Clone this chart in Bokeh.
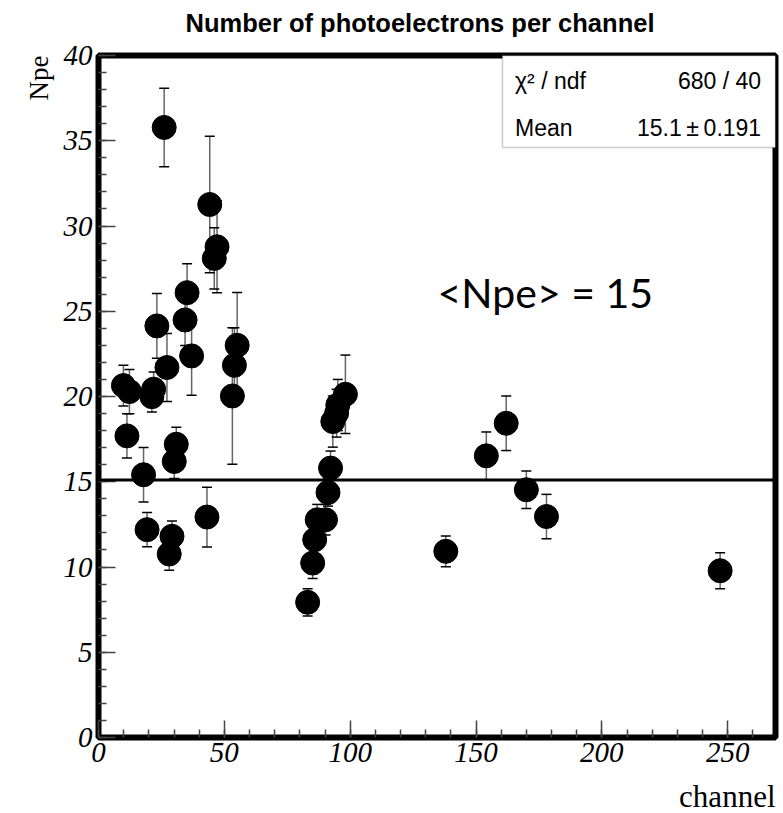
from bokeh.plotting import figure
from bokeh.models import (Range1d, SingleIntervalTicker, Whisker, TeeHead,
                          ColumnDataSource, Span, Label, BoxAnnotation, Title)
from bokeh.embed import file_html
from bokeh.resources import INLINE

# ---- data ----
channel = [9.9, 11.3, 12.3, 17.9, 19.3, 21.2, 21.9, 23.2, 26.1, 27.2,
           28.1, 29.2, 30.1, 30.9, 34.4, 35.2, 37.0, 43.1, 44.2, 46.0,
           47.1, 53.2, 54.0, 55.1,
           83.1, 85.1, 85.9, 86.9, 90.2, 91.2, 92.2, 93.1, 94.6, 95.1, 98.1,
           138.0, 154.1, 162.0, 170.0, 178.0, 247.0]
npe = [20.64, 17.69, 20.29, 15.41, 12.19, 19.99, 20.43, 24.14, 35.78, 21.70,
       10.76, 11.80, 16.19, 17.20, 24.49, 26.09, 22.38, 12.93, 31.26, 28.10,
       28.78, 20.03, 21.83, 23.00,
       7.93, 10.23, 11.60, 12.77, 12.77, 14.37, 15.80, 18.53, 19.02, 19.50, 20.13,
       10.92, 16.52, 18.43, 14.53, 12.96, 9.78]
npe_err = [1.2, 1.3, 1.3, 1.6, 1.0, 0.9, 1.0, 1.9, 2.3, 2.0,
           0.95, 0.9, 1.0, 1.0, 1.5, 1.7, 2.3, 1.75, 4.0, 1.8,
           2.7, 4.0, 2.2, 3.1,
           0.8, 0.9, 0.9, 0.9, 0.9, 0.8, 1.0, 1.5, 1.4, 1.5, 2.3,
           0.9, 1.4, 1.6, 1.1, 1.3, 1.05]
mean_npe = 15.1

title_text = "Number of photoelectrons per channel"
x_label = "channel"
y_label = "Npe"
stats_names = ["χ² / ndf", "Mean"]
stats_values = ["680 / 40", "15.1\u2009±\u20090.191"]
note_text = "<Npe> = 15"

x_min, x_max = 0, 269
y_min, y_max = 0, 40

# ---- figure ----
p = figure(width=783, height=813, x_range=Range1d(x_min, x_max),
           y_range=Range1d(y_min, y_max), output_backend="svg",
           toolbar_location=None, min_border_left=98, min_border_right=8,
           min_border_top=55, min_border_bottom=76)
p.title_location = None
p.xgrid.visible = False
p.ygrid.visible = False
p.background_fill_color = "white"
p.border_fill_color = "white"
p.outline_line_color = "black"
p.outline_line_width = 6

# titles: spacer first (nearest the frame), then the title itself
p.add_layout(Title(text=" ", text_font_size="15px", standoff=0), "above")
p.add_layout(Title(text=title_text, align="left", text_font="Liberation Sans",
                   text_font_style="bold", text_font_size="25.5px",
                   text_color="black", standoff=0, offset=87), "above")

p.add_layout(Title(text=y_label, align="right", text_font="Liberation Serif",
                   text_font_style="normal", text_font_size="27px",
                   text_color="black", standoff=14), "left")
p.add_layout(Title(text=" ", text_font_size="9px", standoff=0), "below")
p.add_layout(Title(text=x_label, align="right", text_font="Liberation Serif",
                   text_font_style="normal", text_font_size="31px",
                   text_color="black", standoff=0), "below")

p.xaxis.ticker = SingleIntervalTicker(interval=50, num_minor_ticks=5)
p.yaxis.ticker = SingleIntervalTicker(interval=5, num_minor_ticks=5)
for ax in (p.xaxis, p.yaxis):
    ax.axis_line_color = None
    ax.major_tick_in = 17
    ax.major_tick_out = 0
    ax.minor_tick_in = 8
    ax.minor_tick_out = 0
    ax.major_tick_line_color = "#444444"
    ax.minor_tick_line_color = "#444444"
    ax.major_tick_line_width = 1.5
    ax.minor_tick_line_width = 1.5
    ax.major_label_text_font = "Liberation Serif"
    ax.major_label_text_font_style = "italic"
    ax.major_label_text_font_size = "29px"
    ax.major_label_text_color = "black"
p.xaxis.major_label_standoff = 5
p.yaxis.major_label_standoff = 6

# ---- data marks ----
src = ColumnDataSource(dict(
    x=channel, y=npe,
    lo=[v - e for v, e in zip(npe, npe_err)],
    hi=[v + e for v, e in zip(npe, npe_err)],
))
p.add_layout(Whisker(source=src, base="x", lower="lo", upper="hi",
                     line_color="#666666", line_width=1.5,
                     lower_head=TeeHead(size=10, line_color="black", line_width=1.5),
                     upper_head=TeeHead(size=10, line_color="black", line_width=1.5)))
p.scatter("x", "y", source=src, size=24, color="black")

p.add_layout(Span(location=mean_npe, dimension="width", line_color="black",
                  line_width=3))

# ---- stats box ----
p.add_layout(BoxAnnotation(left=160.5, right=x_max, bottom=34.6, top=y_max,
                           fill_color="white", fill_alpha=1.0,
                           line_color="#555555", line_width=1.5))
for name, val, yy in zip(stats_names, stats_values, [38.5, 35.75]):
    p.add_layout(Label(x=165.5, y=yy, text=name, text_align="left",
                       text_baseline="middle", text_font="Liberation Sans",
                       text_font_size="23px", text_color="black"))
    p.add_layout(Label(x=263.3, y=yy, text=val, text_align="right",
                       text_baseline="middle", text_font="Liberation Sans",
                       text_font_size="23px", text_color="black"))

# ---- annotation text ----
p.add_layout(Label(x=134.7, y=26.1, text=note_text, text_align="left",
                   text_baseline="middle", text_font="Lato",
                   text_font_size="41px", text_color="black"))

open("out.html", "w").write(file_html(p, INLINE))
